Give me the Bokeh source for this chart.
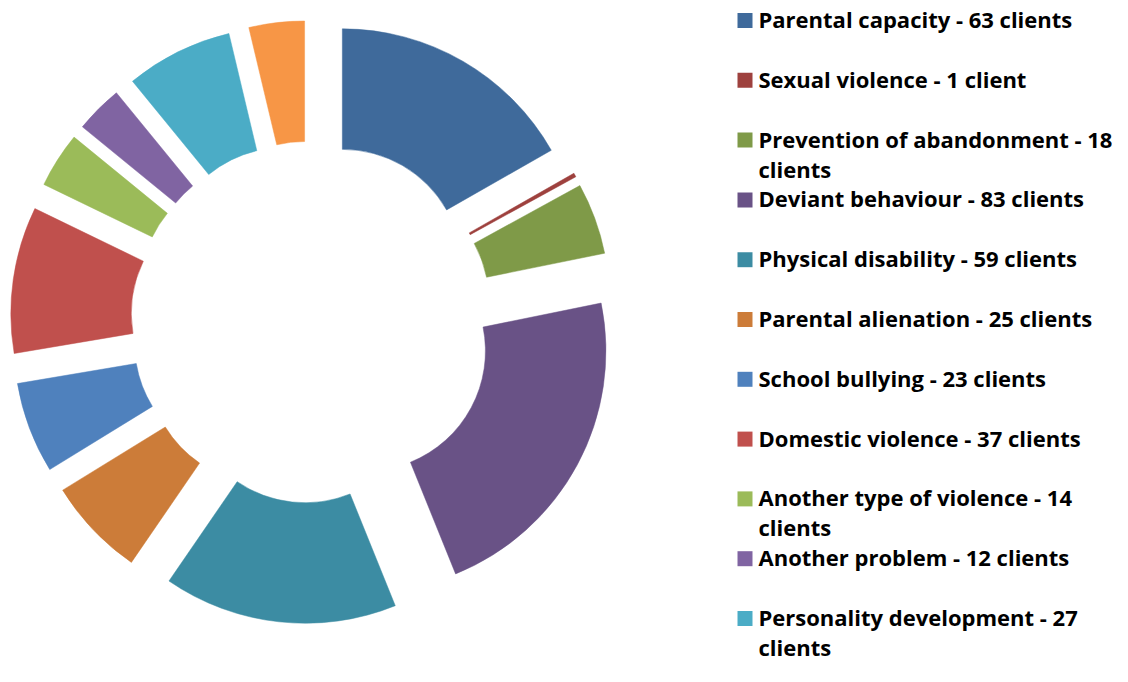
import math
import textwrap
from bokeh.plotting import figure
from bokeh.models import ColumnDataSource, Range1d
from bokeh.core.properties import value
from bokeh.embed import file_html
from bokeh.resources import INLINE

# ---------------- data ----------------
categories = [
    "Parental capacity", "Sexual violence", "Prevention of abandonment",
    "Deviant behaviour", "Physical disability", "Parental alienation",
    "School bullying", "Domestic violence", "Another type of violence",
    "Another problem", "Personality development", "Other",
]
values = [63, 1, 18, 83, 59, 25, 23, 37, 14, 12, 27, 14]
colors = [
    "#3F6A9B", "#9E413E", "#7F9A48", "#695286", "#3C8CA3", "#CC7C39",
    "#4F81BD", "#C0504D", "#9BBB59", "#8064A2", "#4BACC6", "#F79646",
]
n_legend_visible = 11  # the 12th legend entry is cut off in the original

# ---------------- layout ----------------
W, H = 1112, 666
X0, Y0 = 0, 0             # reference pixel at the figure's top-left
REF_H = 682
CX, CY_REF = 311.2, 321.6
R_OUT, R_IN, EXPLODE = 240.5, 120.0, 61.0
LEG_SQ_X, LEG_TXT_X = 744.5, 758.0
LEG_Y0, LEG_STEP, LINE_STEP = 20.0, 59.8, 30.0
TXT_DY = -1.5
FONT = "Open Sans"
FONT_SIZE = "22px"


def fy(ref_y):
    return REF_H - ref_y


p = figure(width=W, height=H, output_backend="svg", toolbar_location=None,
           x_range=Range1d(X0, X0 + W), y_range=Range1d(REF_H - Y0 - H, REF_H - Y0),
           x_axis_location=None, y_axis_location=None, min_border=0,
           background_fill_color="white", border_fill_color="white")
p.outline_line_color = None
p.xgrid.visible = False
p.ygrid.visible = False

total = float(sum(values))
xs, ys, starts, ends = [], [], [], []
cum = 0.0
for v in values:
    t1 = cum / total * 2 * math.pi
    t2 = (cum + v) / total * 2 * math.pi
    tm = (t1 + t2) / 2
    xs.append(CX + EXPLODE * math.sin(tm))
    ys.append(fy(CY_REF) + EXPLODE * math.cos(tm))
    starts.append(math.pi / 2 - t1)
    ends.append(math.pi / 2 - t2)
    cum += v

src = ColumnDataSource(dict(x=xs, y=ys, s=starts, e=ends, c=colors))
p.annular_wedge(x="x", y="y", inner_radius=R_IN, outer_radius=R_OUT,
                start_angle="s", end_angle="e", direction="clock",
                fill_color="c", line_color="c", line_width=0.5, source=src)

# ---------------- legend ----------------
sq_x, sq_y, sq_c = [], [], []
tx, ty, tt = [], [], []
for i in range(n_legend_visible):
    yc = LEG_Y0 + i * LEG_STEP
    sq_x.append(LEG_SQ_X)
    sq_y.append(fy(yc))
    sq_c.append(colors[i])
    label = f"{categories[i]} - {values[i]} client{'s' if values[i] != 1 else ''}"
    for j, line in enumerate(textwrap.wrap(label, width=33)):
        tx.append(LEG_TXT_X)
        ty.append(fy(yc + TXT_DY + j * LINE_STEP))
        tt.append(line)

p.scatter(x=sq_x, y=sq_y, marker="square", size=15, fill_color=sq_c,
          line_color=None)
p.text(x=tx, y=ty, text=tt, text_font=value(FONT), text_font_style="bold",
       text_font_size=FONT_SIZE, text_color="black",
       text_baseline="alphabetic", text_align="left")

open("out.html", "w").write(file_html(p, INLINE))
